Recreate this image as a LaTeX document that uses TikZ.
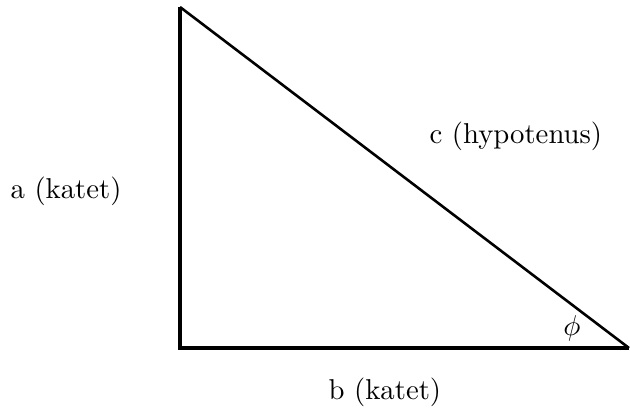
\documentclass[tikz,border=0pt]{standalone}
\begin{document}
\begin{tikzpicture}[x=0.348pt,y=-0.348pt,
  leg/.style={line width=1.5pt},
  hyp/.style={line width=0.9pt},
  lbl/.style={inner sep=0pt,anchor=base west}]
\useasboundingbox (0,0) rectangle (630,408);
\coordinate (A) at (180,7);
\coordinate (B) at (180,348);
\coordinate (C) at (629,348);
\draw[leg] (A) -- (B) -- (C);
\draw[hyp] (A) -- (C);
\node[lbl] (la) at (10,198.3) {a (katet)};
\node[lbl] (lb) at (328,399.3) {b (katet)};
\node[lbl] (lc) at (429,143.3) {c (hypotenus)};
\node[inner sep=0pt,anchor=base] (phi) at (572,335) {$\phi$};
\end{tikzpicture}
\end{document}
